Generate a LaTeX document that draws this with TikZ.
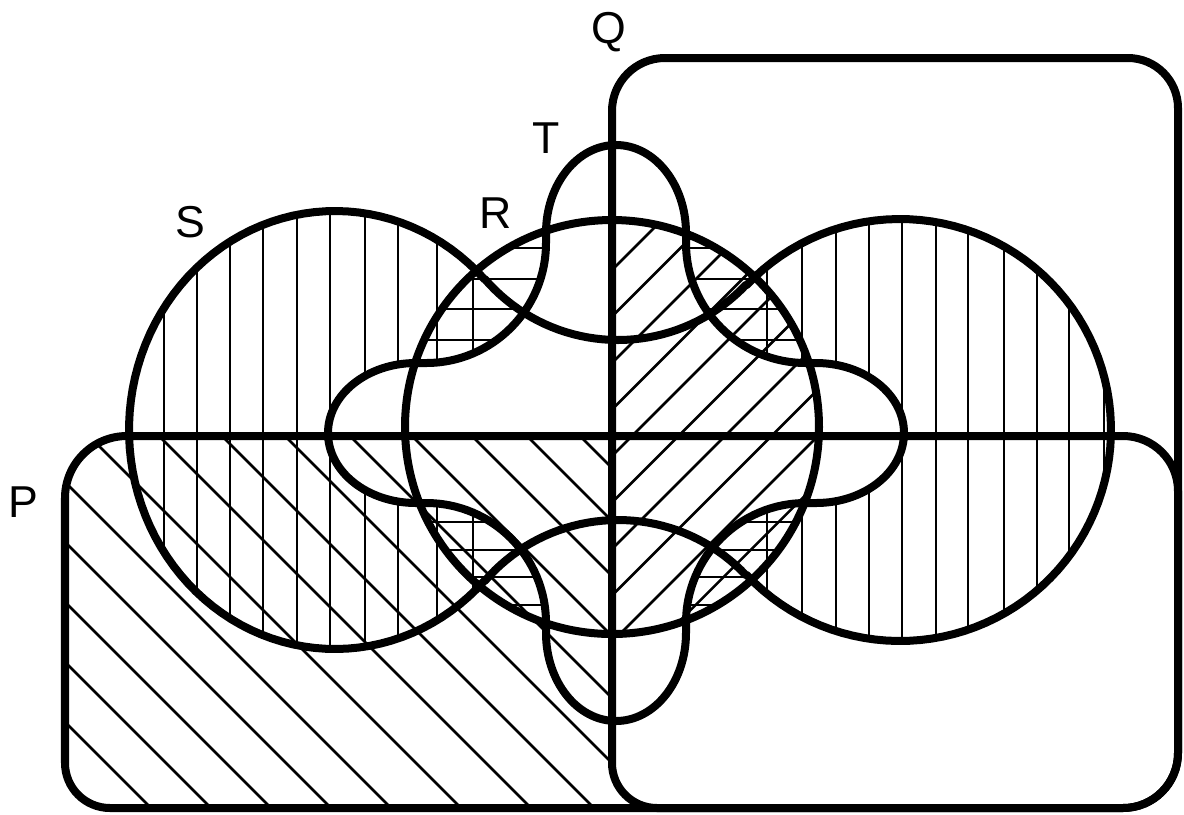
\documentclass[tikz,border=0pt]{standalone}
\usepackage{fontspec}
\setmainfont{Liberation Sans}
\newcommand{\Spath}{plot[domain=43.5:316.5,samples=90,variable=\ang] ({335+206*cos(\ang)},{430+219*sin(\ang)})
  -- plot[domain=139.2:43.33,samples=40,variable=\ang] ({618+176*cos(\ang)},{164+176*sin(\ang)})
  -- plot[domain=223.33:496.67,samples=90,variable=\ang] ({900+211*cos(\ang)},{430+211*sin(\ang)})
  -- plot[domain=-43.33:-139.2,samples=40,variable=\ang] ({618+176*cos(\ang)},{696+176*sin(\ang)}) -- cycle}
\newcommand{\Tpath}{(616,145) arc[start angle=270,end angle=360,x radius=70,y radius=88]
  -- (686,243) arc[start angle=180,end angle=90,radius=120]
  -- (816,363) arc[start angle=-90,end angle=90,x radius=88,y radius=70]
  -- (806,503) arc[start angle=270,end angle=180,radius=120]
  -- (686,633) arc[start angle=0,end angle=180,x radius=70,y radius=88]
  -- (546,623) arc[start angle=0,end angle=-90,radius=120]
  -- (416,503) arc[start angle=90,end angle=270,x radius=88,y radius=70]
  -- (426,363) arc[start angle=90,end angle=0,radius=120]
  -- (546,233) arc[start angle=180,end angle=270,x radius=70,y radius=88] -- cycle}
\newcommand{\Rpath}{(612,427) circle[radius=207]}
\newcommand{\Ppath}{(65,498) arc[start angle=180,end angle=270,radius=62]
  -- (1123,436) arc[start angle=270,end angle=360,radius=55]
  -- (1178,753) arc[start angle=0,end angle=90,radius=55]
  -- (110,808) arc[start angle=90,end angle=180,radius=45] -- cycle}
\newcommand{\Qpath}{(612,111) arc[start angle=180,end angle=270,radius=53]
  -- (1128,58) arc[start angle=270,end angle=360,radius=50]
  -- (1178,753) arc[start angle=0,end angle=90,radius=55]
  -- (657,808) arc[start angle=90,end angle=180,radius=45] -- cycle}
\begin{document}
\begin{tikzpicture}[x=0.01cm,y=0.01cm,yscale=-1,
  outline/.style={line width=0.08cm,line join=round},
  hatch/.style={line width=0.025cm},
  lbl/.style={font=\fontsize{12.7}{15}\selectfont,anchor=base,inner sep=0pt}]
\useasboundingbox (0,0) rectangle (1184,814);
% vertical hatching: S minus T
\begin{scope}[even odd rule]
  \clip \Spath;
  \clip (0,0) rectangle (1184,814) \Tpath;
  \foreach \vx in {164,197,230,263,297,330,365,398,437,473,767,802,836,869,902,936,968,1004,1037,1069,1104}
    \draw[hatch] (\vx,150) -- (\vx,700);
\end{scope}
% horizontal hatching: R minus T
\begin{scope}[even odd rule]
  \clip \Rpath;
  \clip (0,0) rectangle (1184,814) \Tpath;
  \foreach \hy in {248,279,309,340,522,550,577,605}
    \draw[hatch] (380,\hy) -- (850,\hy);
\end{scope}
% / hatching: R and Q
\begin{scope}
  \clip \Rpath;
  \clip (612,0) rectangle (1184,814);
  \foreach \k in {-5,...,7}{
    \pgfmathsetmacro{\cc}{1068+46.5*\k}
    \draw[hatch] (380,\cc-380) -- (850,\cc-850);
  }
\end{scope}
% \ hatching: P minus Q
\begin{scope}
  \clip \Ppath;
  \clip (0,0) rectangle (612,814);
  \foreach \xo in {-341,-281,-221,-161,-101,-41,19,89,159,222,285,350,412,472,527,580}
    \draw[hatch] (\xo-100,336) -- (\xo+500,936);
\end{scope}
% outlines
\draw[outline] \Ppath;
\draw[outline] \Qpath;
\draw[outline] \Rpath;
\draw[outline] \Spath;
\draw[outline] \Tpath;
% labels
\node[lbl] (lP) at (23,517) {P};
\node[lbl] (lQ) at (609,43) {Q};
\node[lbl] (lT) at (546,153) {T};
\node[lbl] (lR) at (496,228) {R};
\node[lbl] (lS) at (190,237) {S};
\end{tikzpicture}
\end{document}
